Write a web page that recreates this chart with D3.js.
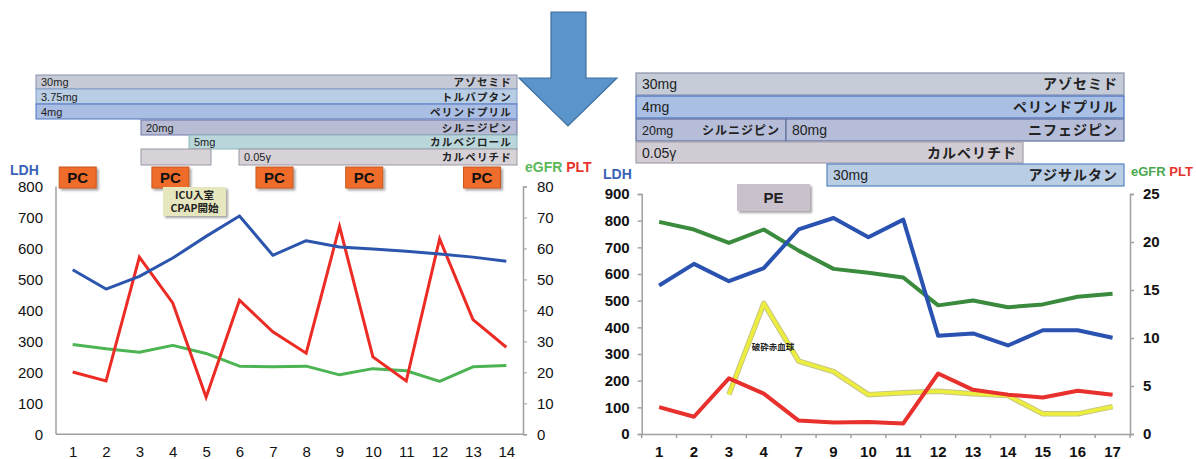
<!DOCTYPE html>
<html><head><meta charset="utf-8">
<script src="https://cdn.jsdelivr.net/npm/d3@7"></script>
<style>
body{margin:0;background:#fff;}
text{font-family:"Liberation Sans","Noto Sans CJK JP",sans-serif;}
.jp{font-family:"Noto Sans CJK JP",sans-serif;}
</style></head>
<body><svg id="c" width="1196" height="459"></svg>
<script>
// ---------- DATA ----------
const leftDays = ["1","2","3","4","5","6","7","8","9","10","11","12","13","14"];
const leftLDH  = [531,469,510,569,639,705,578,625,605,598,591,582,572,559];
const leftPLT  = [20.1,17.2,57.2,42.4,12.0,43.3,33.1,26.2,67.1,25.0,17.2,63.1,37.0,28.1];
const leftEGFR = [29.0,27.6,26.5,28.7,26.1,22.0,21.8,22.0,19.2,21.2,20.5,17.1,21.8,22.2];
const leftLDHTicks = [0,100,200,300,400,500,600,700,800];
const leftRightTicks = [0,10,20,30,40,50,60,70,80];

const rightDays = ["1","2","3","4","7","9","10","11","12","13","14","15","16","17"];
const rightLDH  = [557,638,573,622,767,810,738,804,368,377,332,389,389,361];
const rightEGFR = [22.1,21.3,19.9,21.3,19.1,17.2,16.8,16.3,13.4,13.9,13.2,13.5,14.3,14.6];
const rightPLT  = [2.8,1.8,5.8,4.2,1.4,1.2,1.25,1.1,6.3,4.6,4.1,3.8,4.5,4.1];
const fragDays  = ["3","4","7","9","10","11","12","13","14","15","16","17"];
const fragVals  = [4.1,13.6,7.6,6.5,4.1,4.3,4.45,4.2,4.0,2.1,2.1,2.85];
const rightLDHTicks = [0,100,200,300,400,500,600,700,800,900];
const rightRightTicks = [0,5,10,15,20,25];

const leftDrugNames = ["アゾセミド","トルバプタン","ペリンドプリル","シルニジピン","カルベジロール","","カルペリチド"];
const leftDrugDoses = ["30mg","3.75mg","4mg","20mg","5mg","","0.05γ"];
const rightDrugNames = ["アゾセミド","ペリンドプリル","シルニジピン","ニフェジピン","カルペリチド","アジサルタン"];
const rightDrugDoses = ["30mg","4mg","20mg","80mg","0.05γ","30mg"];
const pcLabels = ["PC","PC","PC","PC","PC"];
const icuLines = ["ICU入室","CPAP開始"];

// ---------- LAYOUT ----------
const svg = d3.select("#c");
const defs = svg.append("defs");
const f = defs.append("filter").attr("id","sh").attr("x","-20%").attr("y","-20%").attr("width","150%").attr("height","160%");
f.append("feDropShadow").attr("dx",2).attr("dy",2).attr("stdDeviation",1.2).attr("flood-color","#000").attr("flood-opacity",0.35);

// arrow
svg.append("polygon")
  .attr("points","551,12 586,12 586,78 617,78 568,126 519,78 551,78")
  .attr("fill","#5b93cb").attr("stroke","#41709f").attr("stroke-width",1.2);

// left drug bars
const leftBarLayout = [
 {x0:36,x1:517,y:75,h:14,fill:"#c6cad6",stroke:"#8a92ab"},
 {x0:36,x1:517,y:89,h:15,fill:"#b9cde5",stroke:"#809fcc"},
 {x0:36,x1:517,y:104,h:15,fill:"#aabde2",stroke:"#4f74c4"},
 {x0:141,x1:517,y:120,h:15,fill:"#b8bcd4",stroke:"#6f76a6"},
 {x0:189,x1:517,y:135,h:14,fill:"#b9d7da",stroke:"#8fb6b9"},
 {x0:141,x1:211,y:149,h:16,fill:"#d7d1d8",stroke:"#9b99a2"},
 {x0:239,x1:517,y:149,h:16,fill:"#d7d1d8",stroke:"#9b99a2"}
];
leftBarLayout.forEach((b,i)=>{
  svg.append("rect").attr("x",b.x0).attr("y",b.y).attr("width",b.x1-b.x0).attr("height",b.h)
    .attr("fill",b.fill).attr("stroke",b.stroke).attr("stroke-width",1);
  if(leftDrugDoses[i]) svg.append("text").attr("x",b.x0+5).attr("y",b.y+b.h/2+4)
    .attr("font-size",11).attr("fill","#222").text(leftDrugDoses[i]);
  if(leftDrugNames[i]) svg.append("text").attr("class","jp").attr("x",b.x1-5).attr("y",b.y+b.h/2+4)
    .attr("text-anchor","end").attr("font-size",10.5).attr("font-weight","bold").attr("letter-spacing",1.2)
    .attr("fill","#222").text(leftDrugNames[i]);
});

// right drug bars
const rightBarLayout = [
 {x0:636,x1:1124,y:73,h:22,fill:"#c5ccd8",stroke:"#8890a8",ns:14},
 {x0:636,x1:1124,y:96,h:22,fill:"#a9c0e4",stroke:"#4a70c0",ns:14},
 {x0:636,x1:786,y:119,h:22,fill:"#b5bdd8",stroke:"#6070a0",ns:12},
 {x0:786,x1:1124,y:119,h:22,fill:"#b5bdd8",stroke:"#6070a0",ns:14},
 {x0:636,x1:1023,y:142,h:21,fill:"#d2cdd4",stroke:"#a3a1aa",ns:14},
 {x0:827,x1:1124,y:164,h:22,fill:"#b9cde5",stroke:"#5484c2",ns:14}
];
rightBarLayout.forEach((b,i)=>{
  svg.append("rect").attr("x",b.x0).attr("y",b.y).attr("width",b.x1-b.x0).attr("height",b.h)
    .attr("fill",b.fill).attr("stroke",b.stroke).attr("stroke-width",1.2);
  svg.append("text").attr("x",b.x0+6).attr("y",b.y+b.h/2+5)
    .attr("font-size",i===2?12.5:14).attr("fill","#222").text(rightDrugDoses[i]);
  svg.append("text").attr("class","jp").attr("x",b.x1-6).attr("y",b.y+b.h/2+5)
    .attr("text-anchor","end").attr("font-size",b.ns).attr("font-weight","bold").attr("letter-spacing",1)
    .attr("fill","#222").text(rightDrugNames[i]);
});

// ---------- LEFT CHART ----------
const L = {x0:56,x1:523,y0:434.3,y1:186.5};
const lx = d3.scalePoint().domain(leftDays).range([L.x0,L.x1]).padding(0.5);
const lyL = d3.scaleLinear().domain([0,800]).range([L.y0,L.y1]);
const lyR = d3.scaleLinear().domain([0,80]).range([L.y0,L.y1]);
const axisCol = "#a0a0a0";
svg.append("line").attr("x1",L.x0).attr("x2",L.x0).attr("y1",L.y1).attr("y2",L.y0).attr("stroke",axisCol).attr("stroke-width",1.5);
svg.append("line").attr("x1",L.x0).attr("x2",L.x1).attr("y1",L.y0).attr("y2",L.y0).attr("stroke",axisCol).attr("stroke-width",1.5);
const lra = svg.append("g").attr("transform",`translate(${L.x1},0)`).call(d3.axisRight(lyR).tickValues(leftRightTicks).tickSize(4).tickPadding(10));
lra.select(".domain").attr("stroke",axisCol).attr("stroke-width",1.5);
lra.selectAll(".tick line").attr("stroke",axisCol);
lra.selectAll("text").attr("font-size",15).attr("fill","#111").style("font-family","Liberation Sans");
const lla = svg.append("g").attr("transform",`translate(${L.x0},0)`).call(d3.axisLeft(lyL).tickValues(leftLDHTicks).tickSize(0).tickPadding(13));
lla.select(".domain").remove();
lla.selectAll("text").attr("font-size",15).attr("fill","#111");
const lxa = svg.append("g").attr("transform",`translate(0,${L.y0})`).call(d3.axisBottom(lx).tickSize(0).tickPadding(12));
lxa.select(".domain").remove();
lxa.selectAll("text").attr("font-size",15).attr("fill","#111");

const lineL = (ys,arr)=>d3.line().x((d,i)=>lx(leftDays[i])).y(d=>ys(d))(arr);
svg.append("path").attr("d",lineL(lyR,leftEGFR)).attr("fill","none").attr("stroke","#4cb452").attr("stroke-width",3).attr("stroke-linejoin","round");
svg.append("path").attr("d",lineL(lyR,leftPLT)).attr("fill","none").attr("stroke","#ec2b25").attr("stroke-width",3).attr("stroke-linejoin","miter");
svg.append("path").attr("d",lineL(lyL,leftLDH)).attr("fill","none").attr("stroke","#2c55ad").attr("stroke-width",3).attr("stroke-linejoin","round");

svg.append("text").attr("x",10).attr("y",175).attr("font-size",14).attr("font-weight","bold").attr("fill","#3a63b8").text("LDH");
const eg1 = svg.append("text").attr("x",525).attr("y",172).attr("font-size",14).attr("font-weight","bold");
eg1.append("tspan").attr("fill","#5cb85c").text("eGFR ");
eg1.append("tspan").attr("fill","#e8332a").text("PLT");

// PC boxes
const pcPos = [1.15,3.93,7.05,9.74,13.27];
const lxLin = d3.scaleLinear().domain([1,14]).range([lx("1"),lx("14")]);
pcPos.forEach((p,i)=>{
  const cx = lxLin(p);
  svg.append("rect").attr("x",cx-18.5).attr("y",167).attr("width",37).attr("height",21)
    .attr("fill","#ef6c2c").attr("stroke","#c8581f").attr("stroke-width",1).attr("filter","url(#sh)");
  svg.append("text").attr("x",cx).attr("y",183).attr("text-anchor","middle").attr("font-size",15).attr("font-weight","bold").attr("fill","#111").text(pcLabels[i]);
});
// ICU box
svg.append("rect").attr("x",163).attr("y",187).attr("width",63).attr("height",29).attr("fill","#e7e7bf").attr("filter","url(#sh)");
icuLines.forEach((t,i)=>svg.append("text").attr("class","jp").attr("x",194.5).attr("y",199+i*13).attr("text-anchor","middle")
  .attr("font-size",10.5).attr("font-weight","bold").attr("fill","#222").text(t));

// ---------- RIGHT CHART ----------
const R = {x0:641.7,x1:1130,y0:434,y1:194};
const rxb = d3.scaleBand().domain(rightDays).range([R.x0,R.x1]);
const rx = d=>rxb(d)+rxb.bandwidth()/2;
const ryL = d3.scaleLinear().domain([0,900]).range([R.y0,R.y1]);
const ryR = d3.scaleLinear().domain([0,25]).range([R.y0,R.y1]);
const rla = svg.append("g").attr("transform",`translate(${R.x0},0)`).call(d3.axisLeft(ryL).tickValues(rightLDHTicks).tickSize(4).tickPadding(8));
const rra = svg.append("g").attr("transform",`translate(${R.x1},0)`).call(d3.axisRight(ryR).tickValues(rightRightTicks).tickSize(4).tickPadding(9));
const rxa = svg.append("g").attr("transform",`translate(0,${R.y0})`).call(d3.axisBottom(rxb).tickSize(0).tickPadding(12));
[rla,rra,rxa].forEach(a=>{
  a.select(".domain").attr("stroke",axisCol).attr("stroke-width",1.5);
  a.selectAll(".tick line").attr("stroke",axisCol).attr("stroke-width",1.5);
  a.selectAll("text").attr("font-size",15).attr("font-weight","bold").attr("fill","#111");
});
svg.append("g").selectAll("line").data(rightDays).join("line")
  .attr("x1",d=>rxb(d)).attr("x2",d=>rxb(d)).attr("y1",R.y0).attr("y2",R.y0+4)
  .attr("stroke",axisCol).attr("stroke-width",1.5);
svg.append("line").attr("x1",R.x1).attr("x2",R.x1).attr("y1",R.y0).attr("y2",R.y0+4).attr("stroke",axisCol).attr("stroke-width",1.5);

const lineR = (ys,days,arr)=>d3.line().x((d,i)=>rx(days[i])).y(d=>ys(d))(arr);
svg.append("path").attr("d",lineR(ryR,rightDays,rightEGFR)).attr("fill","none").attr("stroke","#3a8b3d").attr("stroke-width",4).attr("stroke-linejoin","round");
svg.append("path").attr("d",lineR(ryR,fragDays,fragVals)).attr("fill","none").attr("stroke","#c4c48a").attr("stroke-width",5.5).attr("stroke-linejoin","round");
svg.append("path").attr("d",lineR(ryR,fragDays,fragVals)).attr("fill","none").attr("stroke","#eded3e").attr("stroke-width",3.6).attr("stroke-linejoin","round");
svg.append("path").attr("d",lineR(ryR,rightDays,rightPLT)).attr("fill","none").attr("stroke","#e8302c").attr("stroke-width",4).attr("stroke-linejoin","round");
svg.append("path").attr("d",lineR(ryL,rightDays,rightLDH)).attr("fill","none").attr("stroke","#2a52b0").attr("stroke-width",4).attr("stroke-linejoin","round");

svg.append("text").attr("x",603).attr("y",179).attr("font-size",14).attr("font-weight","bold").attr("fill","#3a63b8").text("LDH");
const eg2 = svg.append("text").attr("x",1131).attr("y",176).attr("font-size",13).attr("font-weight","bold");
eg2.append("tspan").attr("fill","#4aa84e").text("eGFR ");
eg2.append("tspan").attr("fill","#e8332a").text("PLT");

// PE box
svg.append("rect").attr("x",737).attr("y",184).attr("width",73).attr("height",27).attr("fill","#c9c2cc").attr("filter","url(#sh)");
svg.append("text").attr("x",773.5).attr("y",203).attr("text-anchor","middle").attr("font-size",15).attr("font-weight","bold").attr("fill","#222").text("PE");
svg.append("text").attr("class","jp").attr("x",773).attr("y",350).attr("text-anchor","middle").attr("font-size",8.5).attr("font-weight","bold").attr("fill","#222").text("破砕赤血球");
</script></body></html>
